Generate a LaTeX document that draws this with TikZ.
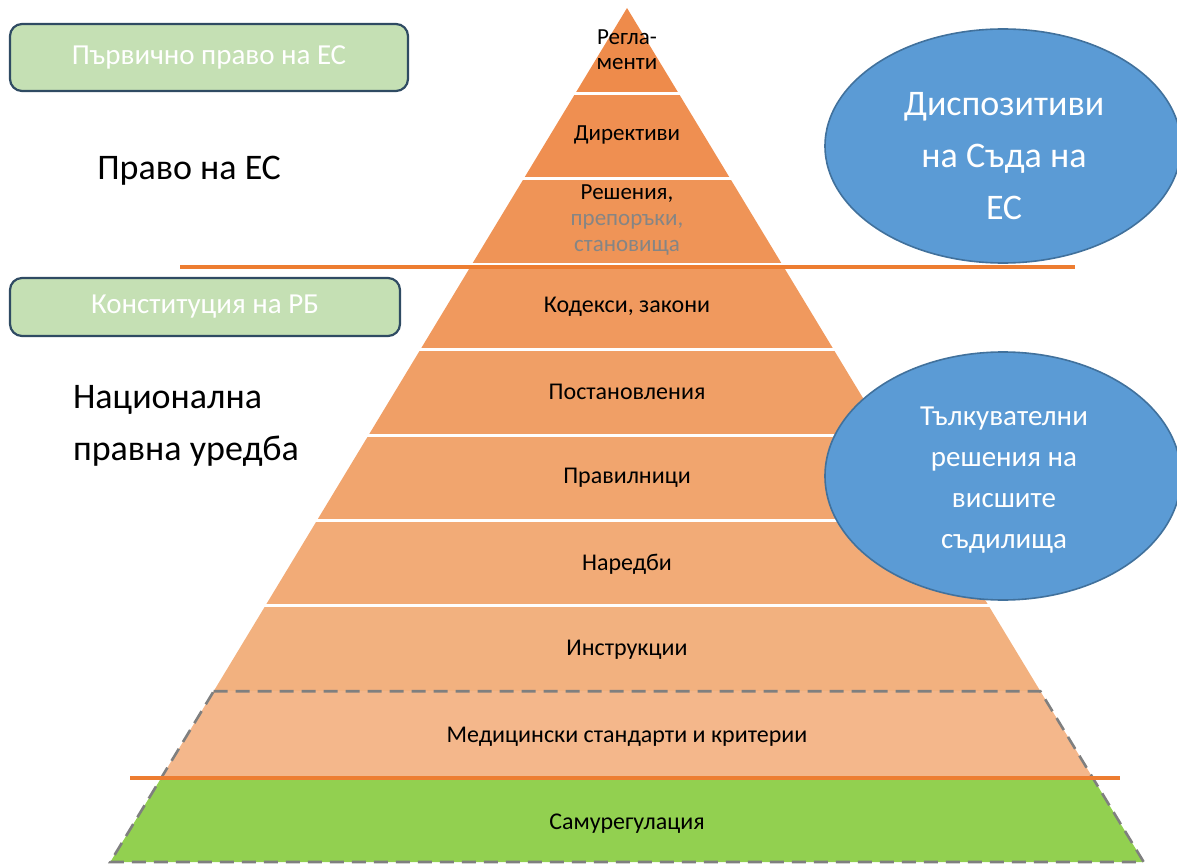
\documentclass[tikz,border=0pt]{standalone}
\usepackage{fontspec}
\setmainfont{Carlito}
\usetikzlibrary{shapes.geometric}
\definecolor{Lz}{HTML}{EE8B4B}
\definecolor{La}{HTML}{EF8F51}
\definecolor{Lb}{HTML}{EF9457}
\definecolor{Lc}{HTML}{F0995E}
\definecolor{Ld}{HTML}{F09F66}
\definecolor{Le}{HTML}{F1A56E}
\definecolor{Lf}{HTML}{F2AB77}
\definecolor{Lg}{HTML}{F2B17F}
\definecolor{Lh}{HTML}{F4B78B}
\definecolor{Lgreen}{HTML}{92D050}
\definecolor{boxfill}{HTML}{C5E0B4}
\definecolor{boxline}{HTML}{2F4B63}
\definecolor{ellfill}{HTML}{5B9BD5}
\definecolor{elline}{HTML}{41719C}
\definecolor{oline}{HTML}{ED7D31}
\definecolor{txtgray}{HTML}{858585}
\definecolor{dashgray}{HTML}{7F7F7F}
\begin{document}
\begin{tikzpicture}[x=0.5pt,y=-0.5pt,
  greenbox/.style={draw=boxline, fill=boxfill, line width=1.1pt, rounded corners=6pt,
     text=white, font=\fontsize{14.5}{17}\selectfont, inner sep=0pt},
  layertext/.style={font=\fontsize{12}{13}\selectfont, align=center, text=black},
  bigtext/.style={font=\fontsize{18}{26}\selectfont, text=black},
  courtell/.style={ellipse, draw=elline, fill=ellfill, line width=0.8pt, inner sep=0pt},
  elltext/.style={text=white, align=center, inner sep=0pt},
  sepline/.style={white, line width=1.5pt},
  orangeline/.style={oline, line width=1.8pt},
  dashedge/.style={dashgray, line width=1.3pt, dash pattern=on 7pt off 4pt}
]
\useasboundingbox (0,0) rectangle (1177,866);

% pyramid layers
\foreach \i/\c in {0/Lz,1/La,2/Lb,3/Lc,4/Ld,5/Le,6/Lf,7/Lg,8/Lh,9/Lgreen}{
  \pgfmathsetmacro\yt{8+85.4*\i}
  \pgfmathsetmacro\yb{\yt+85.4}
  \pgfmathsetmacro\tl{627-0.605*(\yt-8)}
  \pgfmathsetmacro\tr{627+0.605*(\yt-8)}
  \pgfmathsetmacro\bl{627-0.605*(\yb-8)}
  \pgfmathsetmacro\br{627+0.605*(\yb-8)}
  \fill[\c] (\tl,\yt) -- (\tr,\yt) -- (\br,\yb) -- (\bl,\yb) -- cycle;
}
% white separators
\foreach \i in {1,...,7}{
  \pgfmathsetmacro\yy{8+85.4*\i}
  \pgfmathsetmacro\xl{627-0.605*(\yy-8)-2}
  \pgfmathsetmacro\xr{627+0.605*(\yy-8)+2}
  \draw[sepline] (\xl,\yy) -- (\xr,\yy);
}
% dashed outline of the lowest two layers
\coordinate (dtl) at (213.7,691.2);
\coordinate (dtr) at (1040.3,691.2);
\coordinate (dbr) at (1143.7,862);
\coordinate (dbl) at (110.3,862);
\draw[dashedge] (dtl) -- (dtr) -- (dbr) -- (dbl) -- cycle;

% orange separating lines
\coordinate (o1a) at (180,267);
\coordinate (o1b) at (1075,267);
\coordinate (o2a) at (130,778);
\coordinate (o2b) at (1120,778);
\draw[orangeline] (o1a) -- (o1b);
\draw[orangeline] (o2a) -- (o2b);

% layer texts
\node[layertext, font=\fontsize{11.5}{12.5}\selectfont] (reg) at (627,50) {Регла-\\менти};
\node[layertext, font=\fontsize{11.5}{13}\selectfont] (dir) at (627,135) {Директиви};
\node[layertext, font=\fontsize{11.5}{13}\selectfont] (res) at (627,220) {Решения,\\\textcolor{txtgray}{препоръки,}\\\textcolor{txtgray}{становища}};
\node[layertext] (kod) at (627,307) {Кодекси, закони};
\node[layertext] (post) at (627,392) {Постановления};
\node[layertext] (prav) at (627,478) {Правилници};
\node[layertext] (nar) at (627,564) {Наредби};
\node[layertext] (instr) at (627,650) {Инструкции};
\node[layertext] (med) at (627,737) {Медицински стандарти и критерии};
\node[layertext] (samo) at (627,824) {Самурегулация};

% left side
\node[greenbox, minimum width=199pt, minimum height=33.5pt] (prim) at (209,57.5) {Първично право на ЕС};
\node[greenbox, minimum width=195pt, minimum height=29pt] (konst) at (205,307) {Конституция на РБ};
\node[bigtext] (eu) at (189,171) {Право на ЕС};
\node[bigtext, align=left, anchor=west] (nat) at (66,426) {Национална\\правна уредба};

% ellipses
\node[courtell, minimum width=178pt, minimum height=117pt] (disp) at (1003,146) {};
\node[elltext, font=\fontsize{18}{26}\selectfont] (disptext) at (1004,156) {Диспозитиви\\на Съда на\\ЕС};
\node[courtell, minimum width=178pt, minimum height=124pt] (tylk) at (1003,476) {};
\node[elltext, font=\fontsize{14.5}{20.5}\selectfont] (tylktext) at (1004,480) {Тълкувателни\\решения на\\висшите\\съдилища};
\end{tikzpicture}
\end{document}
